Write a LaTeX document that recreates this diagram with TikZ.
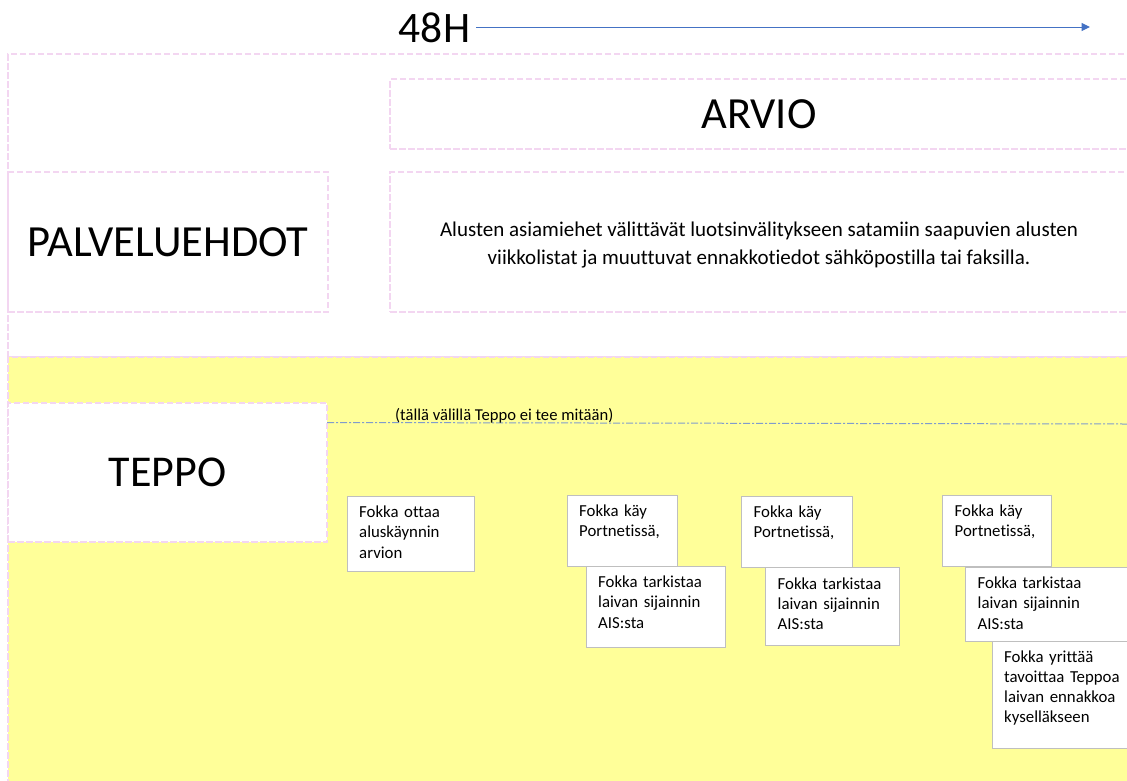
\documentclass[tikz,border=0pt]{standalone}
\usepackage{fontspec}
\setmainfont{Carlito}[Ligatures=NoCommon]
\usetikzlibrary{arrows.meta}

\definecolor{lanepink}{RGB}{243,214,241}
\definecolor{laneyellow}{RGB}{255,255,153}
\definecolor{cardgray}{RGB}{191,191,191}
\definecolor{timeblue}{RGB}{68,114,196}
\definecolor{idleblue}{RGB}{128,156,204}

\tikzset{
  pinkbox/.style={draw=lanepink, line width=1.2pt, dash pattern=on 6.5pt off 2.5pt,
    inner sep=0pt, outer sep=0pt, anchor=north west},
  bigtext/.style={font=\fontsize{44.5}{52}\selectfont},
  cardbox/.style={draw=cardgray, line width=1pt, fill=white, inner sep=0pt,
    outer sep=0pt, anchor=north west},
  cardtext/.style={font=\fontsize{16.8}{20.3}\selectfont, text width=160pt,
    align=left, inner sep=0pt, anchor=base west},
  timeline/.style={draw=timeblue, line width=1pt, -{Triangle[length=8.5pt,width=8pt]}},
  idleline/.style={draw=idleblue, line width=1pt, dash pattern=on 7pt off 2pt on 2pt off 2pt}
}

\begin{document}
\begin{tikzpicture}[x=1pt, y=-1pt]
\useasboundingbox (0,0) rectangle (1127,780);
\clip (0,0) rectangle (1127,780);

% swim lanes
\node[pinkbox, minimum width=1122, minimum height=303] (upper) at (8,54) {};
\node[pinkbox, fill=laneyellow, minimum width=1122, minimum height=430] (lower) at (8,357) {};

% time axis
\node[font=\fontsize{43.5}{50}\selectfont, inner xsep=6pt, inner ysep=0pt] (h48) at (434.5,28) {48H};
\coordinate (tip) at (1090,27);
\draw[timeline] (h48.east |- tip) -- (tip);

% upper lane contents
\node[pinkbox, bigtext, minimum width=738, minimum height=70] (arvio) at (390,79) {ARVIO};
\node[pinkbox, bigtext, minimum width=320, minimum height=140] (ehdot) at (8,172) {PALVELUEHDOT};
\node[pinkbox, minimum width=738, minimum height=140] (desc) at (390,172) {};
\node[align=center, inner sep=0pt, font=\fontsize{21}{28}\selectfont] (desctext)
  at ([yshift=-3pt]desc.center)
  {Alusten asiamiehet välittävät luotsinvälitykseen satamiin saapuvien alusten\\
   viikkolistat ja muuttuvat ennakkotiedot sähköpostilla tai faksilla.};

% lower lane contents
\node[pinkbox, font=\fontsize{44}{52}\selectfont, fill=white, minimum width=319, minimum height=139] (teppo) at (8,403) {TEPPO};
\coordinate (idlestart) at (327,422.5);
\coordinate (idleend) at (1127,424);
\draw[idleline] (idlestart) -- (idleend);
\node[font=\fontsize{16.6}{19}\selectfont, inner sep=0pt, anchor=base west] (idle) at (395,420)
  {(tällä välillä Teppo ei tee mitään)};

% Fokka's steps
\node[cardbox, minimum width=127, minimum height=75] (c1) at (347,496) {};
\node[cardtext] (t1) at ([shift={(12,21.5)}]c1.north west) {Fokka ottaa\\aluskäynnin\\arvion};

\node[cardbox, minimum width=110, minimum height=71] (c2) at (567,495) {};
\node[cardtext] (t2) at ([shift={(12,21.5)}]c2.north west) {Fokka käy\\Portnetissä,};
\node[cardbox, minimum width=139, minimum height=81] (c3) at (586,566) {};
\node[cardtext] (t3) at ([shift={(12,21.5)}]c3.north west) {Fokka tarkistaa\\laivan sijainnin\\AIS:sta};

\node[cardbox, minimum width=110.5, minimum height=71.5] (c4) at (741.5,496) {};
\node[cardtext] (t4) at ([shift={(12,21.5)}]c4.north west) {Fokka käy\\Portnetissä,};
\node[cardbox, minimum width=134, minimum height=78] (c5) at (765.5,567.5) {};
\node[cardtext] (t5) at ([shift={(12,21.5)}]c5.north west) {Fokka tarkistaa\\laivan sijainnin\\AIS:sta};

\node[cardbox, minimum width=109, minimum height=71.5] (c6) at (942.5,495) {};
\node[cardtext] (t6) at ([shift={(12,21.5)}]c6.north west) {Fokka käy\\Portnetissä,};
\node[cardbox, minimum width=170, minimum height=74] (c7) at (965.5,567) {};
\node[cardtext] (t7) at ([shift={(12,21.5)}]c7.north west) {Fokka tarkistaa\\laivan sijainnin\\AIS:sta};
\node[cardbox, minimum width=150, minimum height=107] (c8) at (992,641) {};
\node[cardtext] (t8) at ([shift={(12,21)}]c8.north west) {Fokka yrittää\\tavoittaa Teppoa\\laivan ennakkoa\\kyselläkseen};
\end{tikzpicture}
\end{document}
